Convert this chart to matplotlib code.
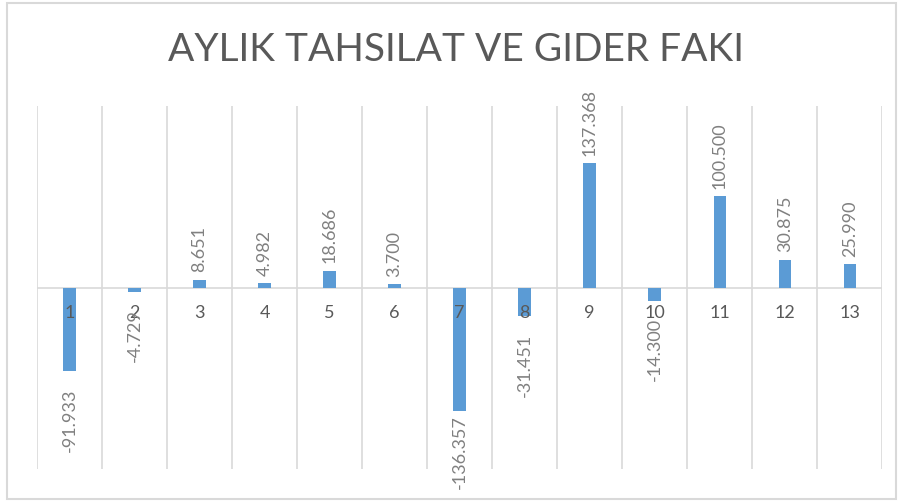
import matplotlib.pyplot as plt
from matplotlib.patches import Rectangle

# monthly net values (collections minus expenses)
months = ['1', '2', '3', '4', '5', '6', '7', '8', '9', '10', '11', '12', '13']
net_values = [-91933, -4729, 8651, 4982, 18686, 3700, -136357, -31451,
              137368, -14300, 100500, 30875, 25990]
title = 'AYLIK TAHSILAT VE GIDER FAKI'

bar_color = '#5B9BD5'
grid_color = '#D9D9D9'
text_color = '#595959'
label_color = '#808080'

plt.rcParams['font.family'] = ['Lato', 'DejaVu Sans']

fig = plt.figure(figsize=(9.03, 5.02), dpi=100)
fig.patches.append(Rectangle((0.008, 0.004), 0.984, 0.988, transform=fig.transFigure,
                             fill=False, edgecolor=grid_color, linewidth=1.5))

ax = fig.add_axes([0.041, 0.0637, 0.936, 0.723])
x = list(range(1, len(months) + 1))
ax.bar(x, net_values, width=0.19, color=bar_color, zorder=3)

ax.set_xlim(0.5, len(months) + 0.5)
ax.set_ylim(-200000, 200000)
for b in range(len(months) + 1):
    ax.axvline(b + 0.5, color=grid_color, linewidth=1.2, zorder=1)
ax.axhline(0, color=grid_color, linewidth=1.2, zorder=2)

for s in ax.spines.values():
    s.set_visible(False)
ax.set_xticks([])
ax.set_yticks([])

# category labels just under the zero line
for xi, m in zip(x, months):
    ax.annotate(m, (xi, 0), xytext=(0, -12), textcoords='offset points',
                ha='center', va='top', fontsize=13, color=text_color, zorder=4)

# data labels, rotated
for xi, v in zip(x, net_values):
    txt = f'{v:,}'.replace(',', '.')
    if v >= 0:
        ax.annotate(txt, (xi, v), xytext=(0, 6), textcoords='offset points',
                    ha='center', va='bottom', rotation=90, fontsize=13,
                    color=label_color, zorder=4)
    else:
        off = -12 if v > -120000 else -2
        ax.annotate(txt, (xi, v), xytext=(0, off), textcoords='offset points',
                    ha='center', va='top', rotation=90, fontsize=13,
                    color=label_color, zorder=4, annotation_clip=False)

fig.text(0.505, 0.90, title, ha='center', va='center', fontsize=28,
         color=text_color)

fig.savefig('out.png', dpi=100)
